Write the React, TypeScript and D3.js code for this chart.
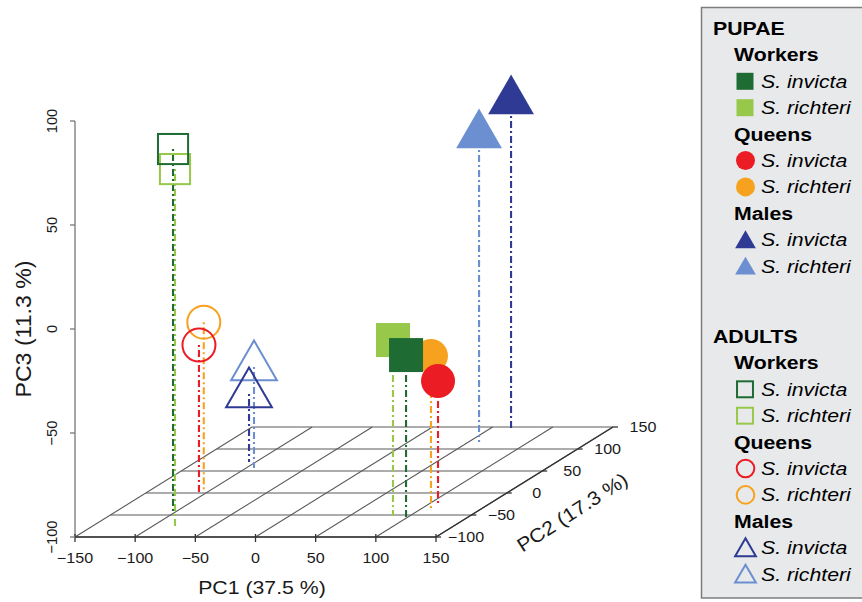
import React, { useEffect, useRef } from 'react';
import * as d3 from 'd3';

const W = 862;
const H = 602;
const FONT = "'Liberation Sans', Arial, Helvetica, sans-serif";

// samples, in drawing order
const STAGE = ['Pupae', 'Pupae', 'Pupae', 'Pupae', 'Pupae', 'Pupae', 'Adults', 'Adults', 'Adults', 'Adults', 'Adults', 'Adults'];
const CASTE = ['Workers', 'Queens', 'Workers', 'Queens', 'Males', 'Males', 'Workers', 'Workers', 'Queens', 'Queens', 'Males', 'Males'];
const SPECIES = ['S. richteri', 'S. richteri', 'S. invicta', 'S. invicta', 'S. richteri', 'S. invicta', 'S. richteri', 'S. invicta', 'S. richteri', 'S. invicta', 'S. richteri', 'S. invicta'];
const PC1 = [86.2, 109.7, 102.4, 108.9, 58.7, 69.4, -81.6, -100.6, -103, -107, -93.5, -105.7];
const PC2 = [-52.3, -38.6, -61.4, -27.3, 116, 143, -75, -45.5, 2, 2, 56.8, 70.5];
const PC3 = [-15.4, -26, -20.7, -40.4, 47.6, 58.2, 71.6, 75, -18.3, -29.3, -51.4, -67.3];

const PC1_TICKS = [-150, -100, -50, 0, 50, 100, 150];
const PC2_TICKS = [-100, -50, 0, 50, 100, 150];
const PC3_TICKS = [-100, -50, 0, 50, 100];

const LEGEND_STAGES = ['PUPAE', 'ADULTS'];
const LEGEND_CASTES = ['Workers', 'Queens', 'Males'];
const LEGEND_SPECIES = ['S. invicta', 'S. richteri'];

const GROUP_KEYS = ['Workers S. invicta', 'Workers S. richteri', 'Queens S. invicta', 'Queens S. richteri', 'Males S. invicta', 'Males S. richteri'];
const GROUP_COLORS = ['#1e6b34', '#97c84a', '#ec1c24', '#f7a21f', '#2e3a94', '#6b8fd0'];

const fmt = (d: number) => String(d).replace('-', '\u2212');

export default function App() {
  const ref = useRef<SVGSVGElement>(null);

  useEffect(() => {
    const svg = d3.select(ref.current);
    svg.selectAll('*').remove();

    const color = d3.scaleOrdinal<string, string>().domain(GROUP_KEYS).range(GROUP_COLORS);
    const shape = d3.scaleOrdinal<string, string>().domain(LEGEND_CASTES).range(['square', 'circle', 'triangle']);

    // scatterplot3d-like oblique projection
    const x = d3.scaleLinear().domain([-150, 150]).range([75, 436]);
    const z = d3.scaleLinear().domain([-100, 100]).range([537, 121]);
    const depth = d3.scaleLinear().domain([-100, 150]).range([0, 1]);
    const DX = 177, DY = -110;
    const proj = (a: number, b: number, c: number): [number, number] =>
      [x(a) + DX * depth(b), z(c) + DY * depth(b)];

    // floor grid
    const grid = svg.append('g').attr('stroke', '#5a5a5a').attr('stroke-width', 1.1);
    PC2_TICKS.forEach(b => {
      const [x1, y1] = proj(-150, b, -100), [x2, y2] = proj(150, b, -100);
      grid.append('line').attr('x1', x1).attr('y1', y1).attr('x2', x2).attr('y2', y2);
    });
    PC1_TICKS.forEach(a => {
      const [x1, y1] = proj(a, -100, -100), [x2, y2] = proj(a, 150, -100);
      grid.append('line').attr('x1', x1).attr('y1', y1).attr('x2', x2).attr('y2', y2);
    });

    // axes
    const ax = svg.append('g').attr('stroke', '#333').attr('stroke-width', 1.3);
    const [fx0, fy0] = proj(-150, -100, -100), [fx1, fy1] = proj(150, -100, -100);
    const [bx1, by1] = proj(150, 150, -100);
    ax.append('line').attr('x1', fx0).attr('y1', fy0).attr('x2', fx1).attr('y2', fy1);
    ax.append('line').attr('x1', fx1).attr('y1', fy1).attr('x2', bx1).attr('y2', by1);
    ax.append('line').attr('x1', x(-150)).attr('y1', z(-100)).attr('x2', x(-150)).attr('y2', z(100))
      .attr('stroke', '#777');

    const txt = svg.append('g').attr('font-family', FONT).attr('fill', '#1a1a1a');

    PC1_TICKS.forEach(a => {
      const [tx, ty] = proj(a, -100, -100);
      ax.append('line').attr('x1', tx).attr('y1', ty - 3).attr('x2', tx).attr('y2', ty + 5);
      txt.append('text').attr('transform', `translate(${tx},${ty + 26}) scale(1.15,1)`)
        .attr('text-anchor', 'middle').attr('font-size', 14).text(fmt(a));
    });
    PC2_TICKS.forEach(b => {
      const [tx, ty] = proj(150, b, -100);
      ax.append('line').attr('x1', tx).attr('y1', ty).attr('x2', tx + 5).attr('y2', ty);
      txt.append('text').attr('transform', `translate(${tx + 30},${ty + 5}) scale(1.15,1)`)
        .attr('text-anchor', 'middle').attr('font-size', 14).text(fmt(b));
    });
    PC3_TICKS.forEach(c => {
      const ty = z(c);
      ax.append('line').attr('x1', x(-150)).attr('y1', ty).attr('x2', x(-150) - 5).attr('y2', ty)
        .attr('stroke', '#777');
      txt.append('text').attr('transform', `translate(57,${ty}) rotate(-90) scale(1.05,1.1)`)
        .attr('text-anchor', 'middle').attr('font-size', 14).text(fmt(c));
    });

    // axis titles
    txt.append('text').attr('transform', 'translate(262,594) scale(1.15,1)')
      .attr('text-anchor', 'middle').attr('font-size', 18.5).text('PC1 (37.5 %)');
    txt.append('text').attr('transform', 'translate(576,518) rotate(-33) scale(1.15,1.05)')
      .attr('text-anchor', 'middle').attr('font-size', 18.5).text('PC2 (17.3 %)');
    txt.append('text').attr('transform', `translate(31,${(z(-100) + z(100)) / 2}) rotate(-90) scale(1.25,1.15)`)
      .attr('text-anchor', 'middle').attr('font-size', 18.5).text('PC3 (11.3 %)');

    // drop lines
    const drops = svg.append('g').attr('fill', 'none').attr('stroke-width', 2.1)
      .attr('stroke-dasharray', '2 3 7 3');
    PC1.forEach((a, i) => {
      const [px, py] = proj(a, PC2[i], PC3[i]);
      const [qx, qy] = proj(a, PC2[i], -100);
      drops.append('line').attr('x1', px).attr('y1', py).attr('x2', qx).attr('y2', qy)
        .attr('stroke', color(`${CASTE[i]} ${SPECIES[i]}`));
    });

    const drawSymbol = (g: any, kind: string, cx: number, cy: number, s: number, filled: boolean, col: string, sw = 2) => {
      const fill = filled ? col : 'none';
      const stroke = filled ? 'none' : col;
      if (kind === 'square') {
        const h = filled ? s : s * 0.886;
        g.append('rect').attr('x', cx - h).attr('y', cy - h).attr('width', 2 * h).attr('height', 2 * h)
          .attr('fill', fill).attr('stroke', stroke).attr('stroke-width', sw);
      } else if (kind === 'circle') {
        g.append('circle').attr('cx', cx).attr('cy', cy).attr('r', filled ? s : s - 0.5)
          .attr('fill', fill).attr('stroke', stroke).attr('stroke-width', sw);
      } else {
        const p = d3.path();
        p.moveTo(cx, cy - 1.555 * s);
        p.lineTo(cx + 1.347 * s, cy + 0.778 * s);
        p.lineTo(cx - 1.347 * s, cy + 0.778 * s);
        p.closePath();
        g.append('path').attr('d', p.toString())
          .attr('fill', fill).attr('stroke', stroke).attr('stroke-width', sw).attr('stroke-linejoin', 'miter');
      }
    };

    // points
    const pts = svg.append('g');
    PC1.forEach((a, i) => {
      const [px, py] = proj(a, PC2[i], PC3[i]);
      drawSymbol(pts, shape(CASTE[i]), px, py, 17, STAGE[i] === 'Pupae', color(`${CASTE[i]} ${SPECIES[i]}`));
    });

    // legend
    const lg = svg.append('g').attr('font-family', FONT).attr('fill', '#000');
    lg.append('rect').attr('x', 701.5).attr('y', 7.5).attr('width', 175).attr('height', 590.5)
      .attr('fill', '#e8e9eb').attr('stroke', '#7d7d7d').attr('stroke-width', 1.5);
    const STEP = 26.4;
    const blockTop = [35, 343];
    LEGEND_STAGES.forEach((stage, si) => {
      const filled = si === 0;
      const y0 = blockTop[si];
      lg.append('text').attr('transform', `translate(713,${y0}) scale(1.15,1)`)
        .attr('font-size', 18.5).attr('font-weight', 'bold').text(stage);
      LEGEND_CASTES.forEach((caste, ci) => {
        const yc = y0 + (1 + 3 * ci) * STEP;
        lg.append('text').attr('transform', `translate(734,${yc}) scale(1.15,1)`)
          .attr('font-size', 18.5).attr('font-weight', 'bold').text(caste);
        LEGEND_SPECIES.forEach((sp, k) => {
          const ys = y0 + (2 + 3 * ci + k) * STEP;
          const col = color(`${caste} ${sp}`);
          const kind = shape(caste);
          if (kind === 'square') drawSymbol(lg, kind, 745, ys - 6.5, filled ? 8.5 : 9, filled, col, 2);
          else if (kind === 'circle') drawSymbol(lg, kind, 745.5, ys - 6.5, filled ? 9.5 : 9.3, filled, col, 2);
          else drawSymbol(lg, kind, 745.5, ys - 4, 7.7, filled, col, 2);
          lg.append('text').attr('transform', `translate(761,${ys}) scale(1.15,1)`)
            .attr('font-size', 18.5).attr('font-style', 'italic').text(sp);
        });
      });
    });
  }, []);

  return (
    <div style={{ position: 'absolute', left: 0, top: 0 }}>
      <svg ref={ref} width={W} height={H} style={{ display: 'block', background: '#fff' }} />
    </div>
  );
}
